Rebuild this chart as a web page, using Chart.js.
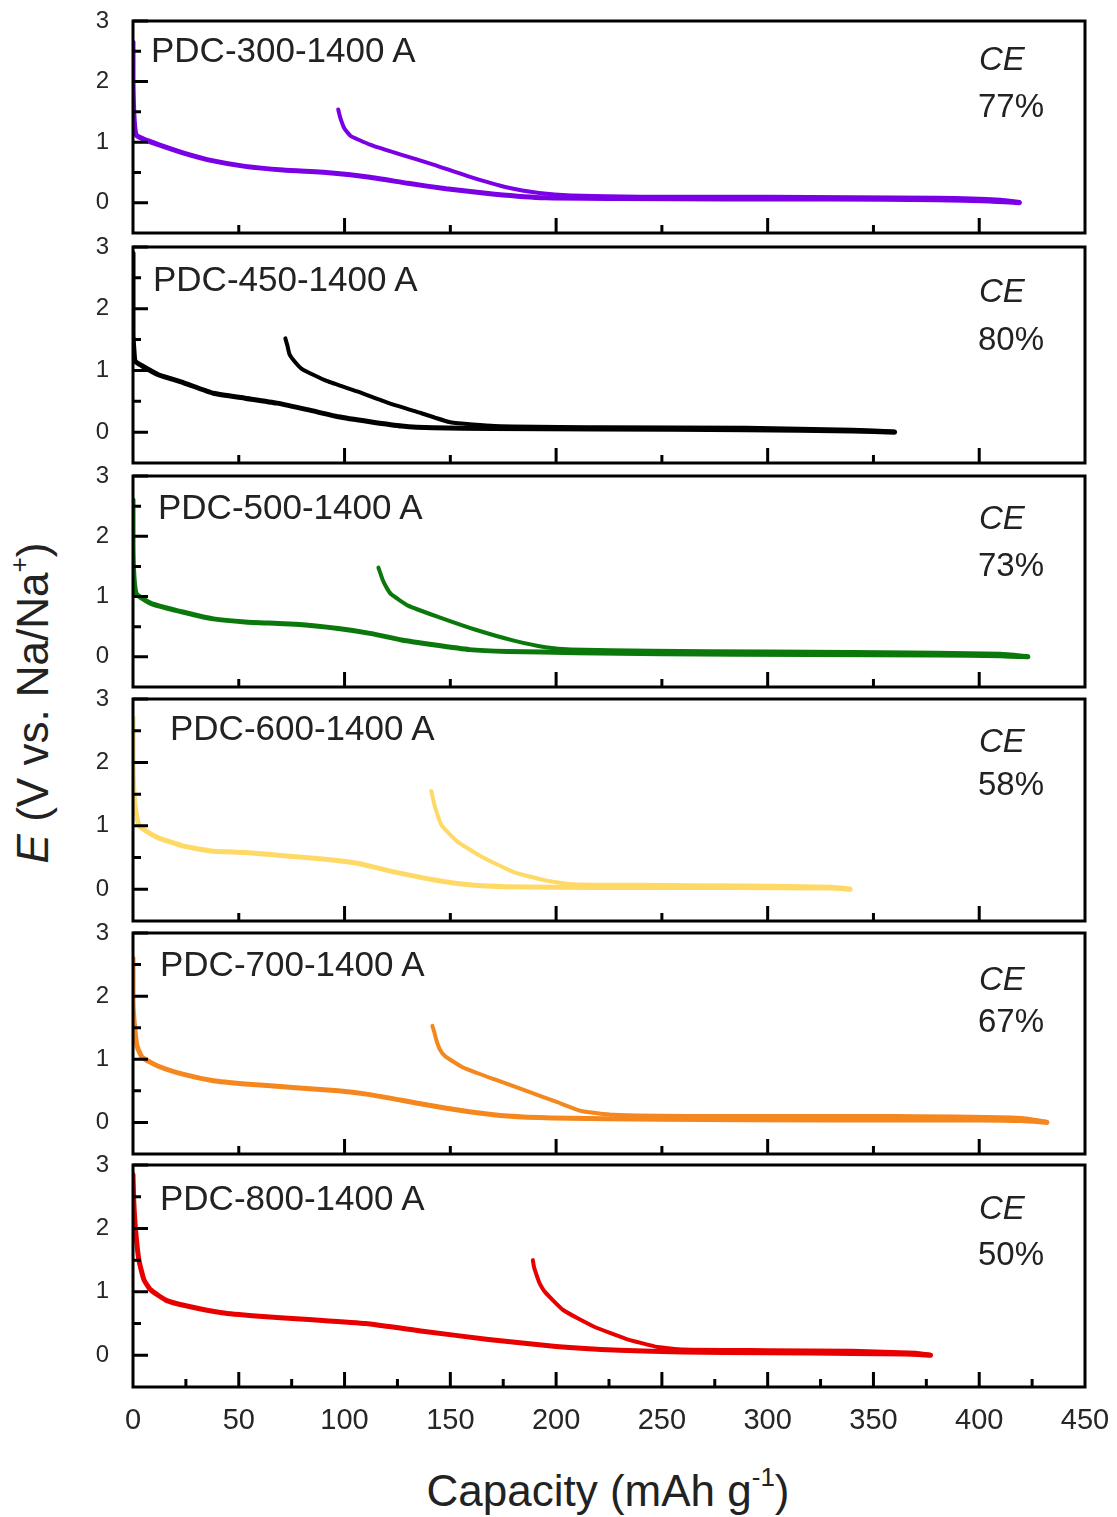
<!DOCTYPE html>
<html><head><meta charset="utf-8">
<script src="https://cdn.jsdelivr.net/npm/chart.js@4.4.1/dist/chart.umd.min.js"></script>
<style>
html,body{margin:0;padding:0;background:#fff;}
#wrap{position:relative;width:1117px;height:1517px;overflow:hidden;font-family:"Liberation Sans",Arial,sans-serif;background:#fff;}
#wrap canvas{position:absolute;left:0;}
.lab{position:absolute;color:#222;white-space:nowrap;line-height:1;}
.ytitle{position:absolute;left:33px;top:703px;transform:translate(-50%,-50%) rotate(-90deg);font-size:44px;color:#222;white-space:nowrap;line-height:1;}
.xtitle{position:absolute;left:608px;top:1469px;transform:translateX(-50%);font-size:44px;color:#222;white-space:nowrap;line-height:1;}
.sup{font-size:26px;position:relative;top:-20px;}
</style></head><body><div id="wrap">
<div class="ytitle"><i>E</i> (V vs. Na/Na<span class="sup">+</span>)</div>
<div class="xtitle">Capacity (mAh g<span class="sup">-1</span>)</div>
</div>
<script>
// ---------------- DATA ----------------
const samples = ['PDC-300-1400 A', 'PDC-450-1400 A', 'PDC-500-1400 A', 'PDC-600-1400 A', 'PDC-700-1400 A', 'PDC-800-1400 A'];
const ceValues = ['77%', '80%', '73%', '58%', '67%', '50%'];

// PDC-300 : discharge (sodiation) and charge (desodiation, plotted backwards)
const capD300 = [0, 0, 0.5, 1.5, 5, 12, 24, 38, 53, 71, 94, 112, 130, 148, 171, 195, 230, 280, 330, 380, 405, 419];
const eD300   = [2.65, 2.0, 1.4, 1.12, 1.05, 0.96, 0.82, 0.69, 0.60, 0.54, 0.49, 0.42, 0.32, 0.23, 0.14, 0.08, 0.07, 0.06, 0.06, 0.05, 0.03, 0.0];
const capC300 = [97, 98, 100, 103, 112, 127, 142, 159, 177, 192, 207, 240, 300, 380, 410, 419];
const eC300   = [1.54, 1.40, 1.22, 1.10, 0.96, 0.79, 0.63, 0.43, 0.25, 0.16, 0.12, 0.10, 0.10, 0.08, 0.05, 0.01];

// PDC-450
const capD450 = [0, 0, 0.5, 1, 4, 12, 24, 38, 53, 68, 83, 97, 112, 127, 142, 170, 220, 290, 340, 360];
const eD450   = [2.9, 1.6, 1.3, 1.15, 1.08, 0.93, 0.80, 0.63, 0.55, 0.47, 0.36, 0.25, 0.17, 0.10, 0.07, 0.06, 0.05, 0.04, 0.02, 0.0];
const capC450 = [72, 73, 74, 77, 80, 91.5, 106, 121, 136, 150, 171, 220, 290, 340, 360];
const eC450   = [1.52, 1.40, 1.26, 1.12, 1.02, 0.83, 0.66, 0.47, 0.31, 0.16, 0.10, 0.08, 0.07, 0.04, 0.01];

// PDC-500
const capD500 = [0, 0, 0.5, 1.5, 4, 9, 24, 38, 53, 77, 97, 112, 127, 142, 159, 177, 210, 250, 320, 380, 410, 423];
const eD500   = [2.6, 1.8, 1.3, 1.05, 0.98, 0.88, 0.74, 0.63, 0.58, 0.54, 0.47, 0.39, 0.28, 0.20, 0.12, 0.09, 0.07, 0.05, 0.04, 0.03, 0.02, 0.0];
const capC500 = [116, 117, 118, 120, 122, 130, 144.5, 162, 180, 195, 207, 245, 300, 380, 410, 423];
const eC500   = [1.48, 1.38, 1.28, 1.14, 1.04, 0.85, 0.66, 0.45, 0.27, 0.16, 0.12, 0.10, 0.09, 0.07, 0.05, 0.01];

// PDC-600
const capD600 = [0, 0, 0.5, 1.5, 3, 7, 12, 24, 38, 53, 74, 92, 106, 124, 142, 159, 177, 220, 280, 330, 339];
const eD600   = [2.7, 2.0, 1.5, 1.2, 1.0, 0.9, 0.81, 0.68, 0.60, 0.58, 0.52, 0.47, 0.41, 0.27, 0.15, 0.07, 0.04, 0.03, 0.03, 0.02, 0.0];
const capC600 = [141, 142, 143, 144.5, 146, 153, 165, 180, 195, 207, 240, 290, 330, 339];
const eC600   = [1.55, 1.40, 1.27, 1.12, 1.00, 0.76, 0.51, 0.27, 0.14, 0.08, 0.07, 0.06, 0.04, 0.01];

// PDC-700
const capD700 = [0, 0, 0.8, 2, 4.4, 12, 24, 38, 53, 77, 97, 112, 127, 142, 159, 177, 198, 250, 330, 400, 420, 432];
const eD700   = [2.6, 1.9, 1.5, 1.2, 1.03, 0.89, 0.76, 0.66, 0.61, 0.55, 0.50, 0.44, 0.35, 0.26, 0.17, 0.10, 0.07, 0.05, 0.04, 0.04, 0.03, 0.0];
const capC700 = [141.5, 142.5, 143.5, 145, 147.5, 156, 171, 186, 200.6, 212, 227, 270, 360, 420, 432];
const eC700   = [1.53, 1.42, 1.29, 1.16, 1.05, 0.87, 0.68, 0.50, 0.32, 0.18, 0.12, 0.10, 0.10, 0.07, 0.01];

// PDC-800
const capD800 = [0, 0.4, 1.2, 2.8, 5.2, 8.4, 15.5, 25, 42, 58, 85, 110, 137, 168, 200, 230, 260, 300, 340, 365, 377];
const eD800   = [2.85, 2.4, 1.98, 1.5, 1.19, 1.03, 0.87, 0.78, 0.67, 0.62, 0.56, 0.50, 0.38, 0.25, 0.14, 0.08, 0.05, 0.04, 0.03, 0.02, 0.0];
const capC800 = [189, 189.5, 190.5, 192, 194.7, 203.5, 218, 233, 248, 260, 300, 340, 370, 377];
const eC800   = [1.50, 1.40, 1.29, 1.15, 1.00, 0.71, 0.45, 0.26, 0.13, 0.09, 0.08, 0.07, 0.04, 0.01];

// Axis ticks
const xTickLabels = [0, 50, 100, 150, 200, 250, 300, 350, 400, 450];
const yTickLabels = [0, 1, 2, 3];
const yMinorTicks = [0.5, 1.5, 2.5];
const xMajorTop = [100, 200, 300, 400];
const xMinorTop = [50, 150, 250, 350];
const xMajorBottom = [50, 100, 150, 200, 250, 300, 350, 400];
const xMinorBottom = [25, 75, 125, 175, 225, 275, 325, 375, 425];

// ---------------- STYLE / LAYOUT ----------------
const series = [
  [capD300, eD300, capC300, eC300],
  [capD450, eD450, capC450, eC450],
  [capD500, eD500, capC500, eC500],
  [capD600, eD600, capC600, eC600],
  [capD700, eD700, capC700, eC700],
  [capD800, eD800, capC800, eC800]
];
const colors = ['#7A00E6', '#000000', '#0B780B', '#FFD966', '#F5871F', '#E80000'];
const boxes = [[21, 233], [247, 463], [476, 687], [699, 921], [933, 1154], [1165, 1387]];
const labelX = [151, 153, 158, 170, 160, 160];
const labelY = [49, 278, 506, 727, 963, 1197];
const ceY1 = [58, 290, 517, 740, 978, 1207];
const ceY2 = [105, 338, 564, 783, 1020, 1253];

const PAD = 20, LEFT = 133, RIGHT = 1085, W = 1117, XAXIS_H = 50;
const FONT = '"Liberation Sans", Arial, sans-serif';

function pts(xs, ys) { return xs.map((x, i) => ({x: x, y: ys[i]})); }

const framePlugin = {
  id: 'frame',
  afterDraw(chart, args, opts) {
    const {ctx, chartArea: a, scales} = chart;
    const xs = scales.x, ys = scales.y;
    ctx.save();
    ctx.strokeStyle = '#000';
    ctx.lineWidth = 3;
    ctx.lineCap = 'butt';
    ctx.beginPath();
    yTickLabels.forEach(v => { const p = ys.getPixelForValue(v); ctx.moveTo(a.left, p); ctx.lineTo(a.left + 15, p); });
    yMinorTicks.forEach(v => { const p = ys.getPixelForValue(v); ctx.moveTo(a.left, p); ctx.lineTo(a.left + 8, p); });
    opts.major.forEach(v => { const p = xs.getPixelForValue(v); ctx.moveTo(p, a.bottom); ctx.lineTo(p, a.bottom - 15); });
    opts.minor.forEach(v => { const p = xs.getPixelForValue(v); ctx.moveTo(p, a.bottom); ctx.lineTo(p, a.bottom - 8); });
    ctx.stroke();
    ctx.strokeRect(a.left, a.top, a.right - a.left, a.bottom - a.top);
    ctx.restore();
  }
};

const wrap = document.getElementById('wrap');

series.forEach((s, i) => {
  const last = i === series.length - 1;
  const [top, bottom] = boxes[i];
  const h = bottom - top + 2 * PAD + (last ? XAXIS_H : 0);
  const cv = document.createElement('canvas');
  cv.width = W; cv.height = h;
  cv.style.width = W + 'px'; cv.style.height = h + 'px';
  cv.style.top = (top - PAD) + 'px';
  wrap.appendChild(cv);

  new Chart(cv, {
    type: 'line',
    data: {
      datasets: [
        {data: pts(s[0], s[1]), borderColor: colors[i], borderWidth: 5, pointRadius: 0, tension: 0.15,
         borderCapStyle: 'round', borderJoinStyle: 'round', fill: false},
        {data: pts(s[2], s[3]), borderColor: colors[i], borderWidth: 4, pointRadius: 0, tension: 0.15,
         borderCapStyle: 'round', borderJoinStyle: 'round', fill: false}
      ]
    },
    options: {
      responsive: false,
      maintainAspectRatio: false,
      animation: false,
      events: [],
      layout: {padding: {left: 0, right: W - RIGHT, top: PAD, bottom: PAD}},
      plugins: {
        legend: {display: false},
        tooltip: {enabled: false},
        frame: {major: last ? xMajorBottom : xMajorTop, minor: last ? xMinorBottom : xMinorTop}
      },
      scales: {
        x: {
          type: 'linear', min: 0, max: 450,
          display: last,
          afterBuildTicks: sc => { sc.ticks = xTickLabels.map(v => ({value: v})); },
          afterFit: sc => { sc.height = last ? XAXIS_H : 0; sc.paddingLeft = 0; sc.paddingRight = 0; },
          grid: {display: false},
          border: {display: false},
          ticks: {font: {family: FONT, size: 29}, color: '#262626', padding: 9, maxRotation: 0, autoSkip: false}
        },
        y: {
          type: 'linear', min: -0.5, max: 3,
          afterBuildTicks: sc => { sc.ticks = yTickLabels.map(v => ({value: v})); },
          afterFit: sc => { sc.width = LEFT; sc.paddingTop = 0; sc.paddingBottom = 0; },
          grid: {display: false},
          border: {display: false},
          ticks: {font: {family: FONT, size: 24}, color: '#262626', padding: 16}
        }
      }
    },
    plugins: [framePlugin]
  });

  const l = document.createElement('div');
  l.className = 'lab';
  l.style.fontSize = '35px';
  l.style.left = labelX[i] + 'px';
  l.style.top = (labelY[i] - 17) + 'px';
  l.textContent = samples[i];
  wrap.appendChild(l);

  const c1 = document.createElement('div');
  c1.className = 'lab';
  c1.style.fontSize = '33px';
  c1.style.fontStyle = 'italic';
  c1.style.left = '979px';
  c1.style.top = (ceY1[i] - 16) + 'px';
  c1.textContent = 'CE';
  wrap.appendChild(c1);

  const c2 = document.createElement('div');
  c2.className = 'lab';
  c2.style.fontSize = '33px';
  c2.style.left = '978px';
  c2.style.top = (ceY2[i] - 16) + 'px';
  c2.textContent = ceValues[i];
  wrap.appendChild(c2);
});
</script>
</body></html>
